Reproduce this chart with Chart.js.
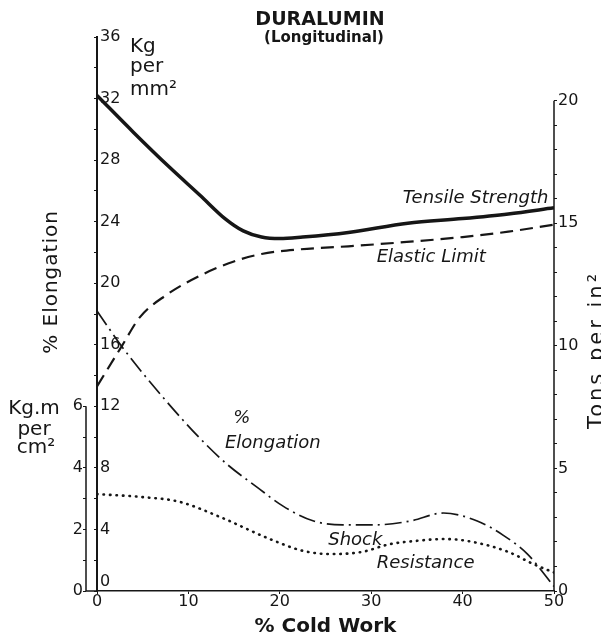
<!DOCTYPE html>
<html>
<head>
<meta charset="utf-8">
<script src="https://cdn.jsdelivr.net/npm/chart.js@4.4.1/dist/chart.umd.min.js"></script>
<style>
  body { margin: 0; background: #fff; }
  #wrap { width: 601px; height: 637px; }
</style>
</head>
<body>
<div id="wrap"><canvas id="mycanvas"></canvas></div>
<script>
// values, x = % cold work
var tensileX = [0, 4, 8, 11.3, 14, 16, 18, 20, 22.5, 27.5, 34, 40, 45, 50];
var tensileY = [32.2, 29.8, 27.5, 25.7, 24.2, 23.4, 23.0, 22.9, 23.0, 23.3, 23.9, 24.2, 24.5, 24.9]; // Kg per mm2

var elasticX = [0, 2.7, 4.7, 7.5, 11.3, 14.9, 18, 22.2, 27.5, 33.2, 40, 45, 50];
var elasticY = [13.3, 15.9, 17.8, 19.2, 20.5, 21.4, 21.9, 22.2, 22.4, 22.65, 23.0, 23.35, 23.8]; // Kg per mm2

var elongX = [0, 2.7, 7.2, 11.3, 14.2, 17.5, 20.4, 23.7, 26.9, 30.5, 34.3, 37.9, 41.6, 44.5, 47.1, 50];
var elongY = [18.2, 15.9, 12.6, 9.9, 8.25, 6.75, 5.5, 4.55, 4.3, 4.3, 4.55, 5.07, 4.55, 3.6, 2.4, 0.3]; // %

var shockX = [0, 5, 9, 13.5, 18.9, 22.6, 25.5, 29, 32, 35, 38, 41, 45, 47.7, 50];
var shockY = [3.15, 3.05, 2.9, 2.4, 1.69, 1.3, 1.2, 1.27, 1.52, 1.63, 1.69, 1.6, 1.27, 0.88, 0.6]; // Kg.m per cm2

// tick labels
var xTicks = [0, 10, 20, 30, 40, 50];
var mainTicks = [4, 8, 12, 16, 20, 24, 28, 32, 36];
var kgmTicks = [0, 2, 4, 6];
var tonTicks = [0, 5, 10, 15, 20];

var FONT = 'DejaVu Sans';
var INK = '#161616';

function pts(xs, ys) {
  return xs.map(function(x, i) { return {x: x, y: ys[i]}; });
}

var textPlugin = {
  id: 'texts',
  afterDraw: function(chart) {
    var ctx = chart.ctx;
    var sx = chart.scales.x, sy = chart.scales.y, sk = chart.scales.yK, sr = chart.scales.yR;
    var area = chart.chartArea;
    ctx.save();
    ctx.strokeStyle = INK;
    ctx.fillStyle = INK;

    // partial axis lines
    ctx.lineWidth = 1.5;
    ctx.beginPath();
    ctx.moveTo(sk.right, sk.getPixelForValue(0));
    ctx.lineTo(sk.right, sk.getPixelForValue(6));
    ctx.moveTo(sr.left, sr.getPixelForValue(0));
    ctx.lineTo(sr.left, sr.getPixelForValue(20));
    ctx.moveTo(sk.right, area.bottom);
    ctx.lineTo(area.left, area.bottom);
    ctx.stroke();

    // title
    ctx.textAlign = 'center';
    ctx.textBaseline = 'middle';
    ctx.font = 'bold 19px ' + FONT;
    ctx.fillText('DURALUMIN', 320, 20);
    ctx.font = 'bold 15px ' + FONT;
    ctx.fillText('(Longitudinal)', 324, 38);

    // zero of main axis sits above the x axis
    ctx.textAlign = 'left';
    ctx.font = '16px ' + FONT;
    ctx.fillText('0', area.left + 3, sy.getPixelForValue(0) - 9);

    // units
    ctx.textBaseline = 'alphabetic';
    ctx.font = '20px ' + FONT;
    ctx.fillText('Kg', 130, 52);
    ctx.fillText('per', 130, 72);
    ctx.fillText('mm²', 130, 95);
    ctx.textAlign = 'center';
    ctx.fillText('Kg.m', 34, 414);
    ctx.fillText('per', 34, 435);
    ctx.fillText('cm²', 36, 453);

    // rotated axis names
    ctx.save();
    ctx.translate(52, 282);
    ctx.rotate(-Math.PI / 2);
    ctx.textBaseline = 'middle';
    ctx.letterSpacing = '1px';
    ctx.fillText('% Elongation', 0, 0);
    ctx.restore();

    ctx.save();
    ctx.translate(603, 350);
    ctx.rotate(-Math.PI / 2);
    ctx.font = '21px ' + FONT;
    ctx.letterSpacing = '3px';
    ctx.fillText('Tons per in²', 0, 0);
    ctx.restore();

    // curve names
    ctx.font = 'italic 18px ' + FONT;
    ctx.textBaseline = 'middle';
    ctx.textAlign = 'right';
    ctx.fillText('Tensile Strength', sx.getPixelForValue(49.4), sy.getPixelForValue(25.5));
    ctx.textAlign = 'left';
    ctx.fillText('Elastic Limit', sx.getPixelForValue(30.6), sy.getPixelForValue(21.7));
    ctx.fillText('%', sx.getPixelForValue(14.9), sy.getPixelForValue(11.2));
    ctx.fillText('Elongation', sx.getPixelForValue(14.0), sy.getPixelForValue(9.6));
    ctx.fillText('Shock', sx.getPixelForValue(25.3), sy.getPixelForValue(3.3));
    ctx.fillText('Resistance', sx.getPixelForValue(30.6), sy.getPixelForValue(1.8));
    ctx.restore();
  }
};

Chart.defaults.font.family = FONT;
Chart.defaults.color = INK;

var ctx = document.getElementById('mycanvas');

var chart = new Chart(ctx, {
  type: 'line',
  data: {
    datasets: [
      {
        label: 'Tensile Strength',
        data: pts(tensileX, tensileY),
        yAxisID: 'y',
        borderColor: INK,
        borderWidth: 3.5,
        pointRadius: 0,
        cubicInterpolationMode: 'monotone'
      },
      {
        label: 'Elastic Limit',
        data: pts(elasticX, elasticY),
        yAxisID: 'y',
        borderColor: INK,
        borderWidth: 2.2,
        borderDash: [13, 7],
        pointRadius: 0,
        cubicInterpolationMode: 'monotone'
      },
      {
        label: '% Elongation',
        data: pts(elongX, elongY),
        yAxisID: 'y',
        borderColor: INK,
        borderWidth: 1.7,
        borderDash: [17, 5, 2, 5],
        pointRadius: 0,
        cubicInterpolationMode: 'monotone'
      },
      {
        label: 'Shock Resistance',
        data: pts(shockX, shockY),
        yAxisID: 'yK',
        borderColor: INK,
        borderWidth: 2.6,
        borderDash: [0.5, 6],
        borderCapStyle: 'round',
        pointRadius: 0,
        cubicInterpolationMode: 'monotone'
      }
    ]
  },
  options: {
    responsive: true,
    maintainAspectRatio: false,
    animation: false,
    layout: { padding: { top: 37 } },
    plugins: {
      legend: { display: false },
      tooltip: { enabled: false }
    },
    scales: {
      x: {
        type: 'linear',
        min: 0,
        max: 50,
        afterBuildTicks: function(s) { s.ticks = xTicks.map(function(v) { return {value: v}; }); },
        afterFit: function(s) { s.height = 46; },
        grid: { drawOnChartArea: false, tickLength: 3, color: INK },
        border: { color: INK, width: 1.5 },
        ticks: { font: { size: 16, lineHeight: 1 }, padding: 0, maxRotation: 0 },
        title: {
          display: true,
          text: '% Cold Work',
          font: { size: 20, weight: 'bold', lineHeight: 1 },
          padding: { top: 0, bottom: 0 }
        }
      },
      y: {
        position: 'left',
        weight: 0,
        min: 0,
        max: 36,
        afterFit: function(s) { s.width = 11; },
        grid: { drawOnChartArea: false, tickLength: 3, color: INK },
        border: { color: INK, width: 2 },
        ticks: {
          stepSize: 2,
          autoSkip: false,
          mirror: true,
          padding: 3,
          font: { size: 16 },
          callback: function(v) { return mainTicks.indexOf(v) >= 0 ? String(v) : ''; }
        }
      },
      yK: {
        position: 'left',
        weight: 1,
        min: 0,
        max: 18,
        afterBuildTicks: function(s) { s.ticks = s.ticks.filter(function(t) { return t.value <= 6; }); },
        afterFit: function(s) { s.width = 86; },
        grid: { drawOnChartArea: false, tickLength: 3, color: INK },
        border: { display: false },
        ticks: {
          stepSize: 1,
          autoSkip: false,
          padding: 0,
          font: { size: 16 },
          callback: function(v) { return kgmTicks.indexOf(v) >= 0 ? String(v) : ''; }
        }
      },
      yR: {
        position: 'right',
        min: 0,
        max: 22.6,
        afterBuildTicks: function(s) { s.ticks = s.ticks.filter(function(t) { return t.value <= 20; }); },
        afterFit: function(s) { s.width = 47; },
        grid: { drawOnChartArea: false, tickLength: 3, color: INK },
        border: { display: false },
        ticks: {
          stepSize: 1,
          autoSkip: false,
          padding: 1,
          font: { size: 16 },
          callback: function(v) { return tonTicks.indexOf(v) >= 0 ? String(v) : ''; }
        }
      }
    }
  },
  plugins: [textPlugin]
});
</script>
</body>
</html>
